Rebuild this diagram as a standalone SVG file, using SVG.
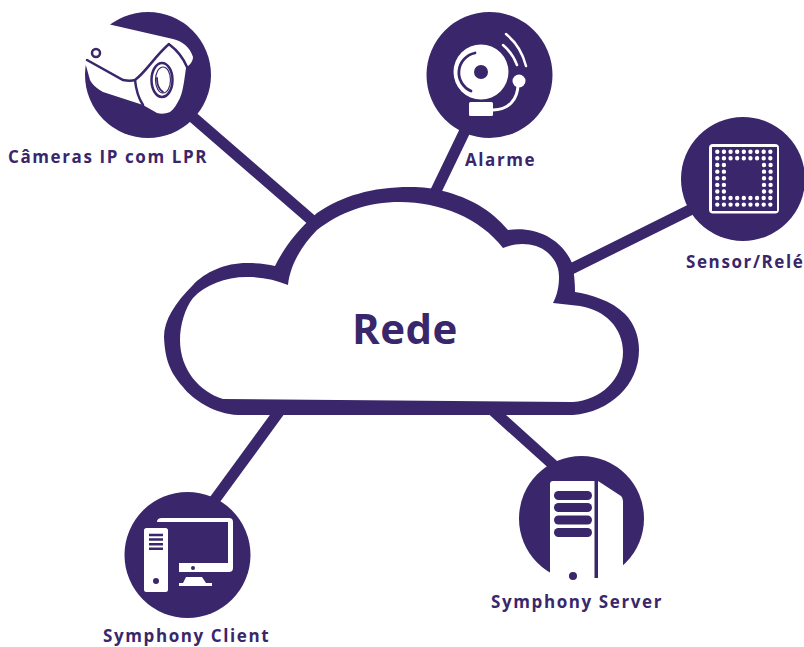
<svg xmlns="http://www.w3.org/2000/svg" width="804" height="647" viewBox="0 0 804 647">
<style>
.d{fill:#39266b}.w{fill:#fff}
.l{fill:#39266b;font-family:"Open Sans","Noto Sans",sans-serif;font-weight:700;font-size:17px;letter-spacing:1.6px}
.c{stroke:#39266b;stroke-width:11;fill:none}
.ds{stroke:#39266b;fill:none;stroke-linecap:round}
.ws{stroke:#fff;fill:none;stroke-linecap:round}
.dots{stroke:#fff;stroke-width:4.400;stroke-linecap:round;stroke-dasharray:0 6.630;fill:none}
</style>
<g id="connectors">
<line class="c" x1="180" y1="106" x2="315" y2="223"/>
<line class="c" x1="475" y1="110" x2="434" y2="195"/>
<line class="c" x1="710" y1="200" x2="565" y2="272"/>
<line class="c" x1="200" y1="520" x2="284" y2="405"/>
<line class="c" x1="570" y1="480" x2="490" y2="408"/>
</g>
<g id="cloud">
<path class="d" d="M238 415C215 414 193 400 183 387C170 372 165 360 164 337C164 320 175 303 193 285C205 272 225 263 247 263C258 263 267 264 275 266C283 250 295 232 317 213C342 196 372 187 410 187C423 187 433 188 443 191C470 198 490 209 508 230C535 226 561 238 572 263C574 272 575 282 575 292C590 294 612 301 625 314C634 323 639 336 639 350C639 385 610 412 573 415Z"/>
<path class="w" d="M223 399C200 392 180 370 180 340C180 325 185 308 193 298C205 285 225 277 247 277C262 277 276 280 288 285C290 265 302 245 317 230C340 212 368 202 400 202C440 202 480 218 503 248C520 241 537 244 547 252C556 260 559 268 559 277C559 287 557 295 553 303L580 306C605 310 623 328 623 352C623 380 600 400 573 402Z"/>
<text x="352" y="344" style="fill:#39266b;font-family:'Open Sans','Noto Sans',sans-serif;font-weight:700;font-size:42px;letter-spacing:.5px">Rede</text>
</g>
<g id="camera">
<circle class="d" cx="148" cy="75" r="63"/>
<path class="w" d="M70 15L112 25L173 39C182 41 190 47 193 57C193 61 190 65 186 68L184 82C183 88 182 93 180 98C177 104 174 109 170 112C165 114 161 114 157 113L143 105L103 92C96 88 92 84 90 80L85 62Z"/>
<circle cx="96" cy="53" r="4" fill="#fff" stroke="#39266b" stroke-width="2.500"/>
<path class="ds" stroke-width="2.500" d="M87 60L123 80C128 81 132 81 135 80C146 72 155 56 169 44"/>
<path class="ds" stroke-width="2.500" d="M135 80C136 90 139 99 143 105"/>
<path class="ds" stroke-width="2.500" d="M170 45C178 51 184 60 187 67"/>
<ellipse cx="162" cy="80" rx="10.500" ry="17" fill="#fff" stroke="#39266b" stroke-width="2.500"/>
<ellipse cx="163" cy="80" rx="7.500" ry="13" fill="#fff" stroke="#39266b" stroke-width="1.200"/>
<path class="ds" stroke-width="1.800" d="M157 78C157 84 158 89 163 92"/>
<text class="l" x="8" y="163">Câmeras IP com LPR</text>
</g>
<g id="alarm">
<circle class="d" cx="489.500" cy="75" r="63"/>
<circle class="w" cx="481" cy="72" r="27.500"/>
<path class="ds" stroke-width="2.800" d="M475 53A20 20 0 0 0 471 91"/>
<circle class="d" cx="481" cy="72" r="7"/>
<rect class="w" x="469" y="102" width="24" height="14" rx="1.500"/>
<path class="ws" stroke-width="3" d="M493 110C508 110 518 100 518 84"/>
<circle class="w" cx="519" cy="81" r="6.500"/>
<path class="ws" stroke-width="2.500" d="M503 45C510 51 514 57 517 65"/>
<path class="ws" stroke-width="2.500" d="M506 34C517 43 523 54 526 66"/>
<text class="l" x="465" y="166">Alarme</text>
</g>
<g id="sensor">
<circle class="d" cx="743" cy="179" r="62"/>
<rect class="w" x="709" y="144" width="70" height="69.500" rx="4"/>
<rect class="d" x="712" y="147" width="65" height="64"/>
<path class="dots" d="M717.300 151.700H772M717.300 158.300H772M717.300 198H772M717.300 204.600H772M717.300 165V192M723.900 165V192M764 165V192M770.600 165V192"/>
<text class="l" x="686" y="268">Sensor/Relé</text>
</g>
<g id="client">
<circle class="d" cx="187.500" cy="555" r="63"/>
<rect class="w" x="144" y="528" width="24" height="64" rx="2.500"/>
<path class="ds" stroke-width="2.600" style="stroke-linecap:butt" d="M149 535H163M149 539.500H163M149 544.300H163M149 548.800H163"/>
<circle class="d" cx="156" cy="581" r="3"/>
<path class="w" d="M157 522Q157 518 162 518H229Q233 518 233 522V568Q233 572 229 572H179V563H228V522Z"/>
<circle class="d" cx="193" cy="568" r="2"/>
<path class="w" d="M186 577H202L206 583H212V586H179V583H183Z"/>
<text class="l" x="103" y="642">Symphony Client</text>
</g>
<g id="server">
<circle class="d" cx="581.500" cy="518.500" r="62.500"/>
<path class="w" d="M550 484Q550 481 553 481H598L621 496Q623 498 623 501V590H550Z"/>
<rect class="d" x="594.500" y="481" width="3.500" height="97"/>
<g class="d">
<rect x="554" y="491" width="38" height="9" rx="4.500"/>
<rect x="554" y="503" width="38" height="9" rx="4.500"/>
<rect x="554" y="515.500" width="38" height="9" rx="4.500"/>
<rect x="554" y="528" width="38" height="9" rx="4.500"/>
</g>
<circle class="d" cx="573" cy="576" r="4"/>
<text class="l" x="491" y="608">Symphony Server</text>
</g>
</svg>
